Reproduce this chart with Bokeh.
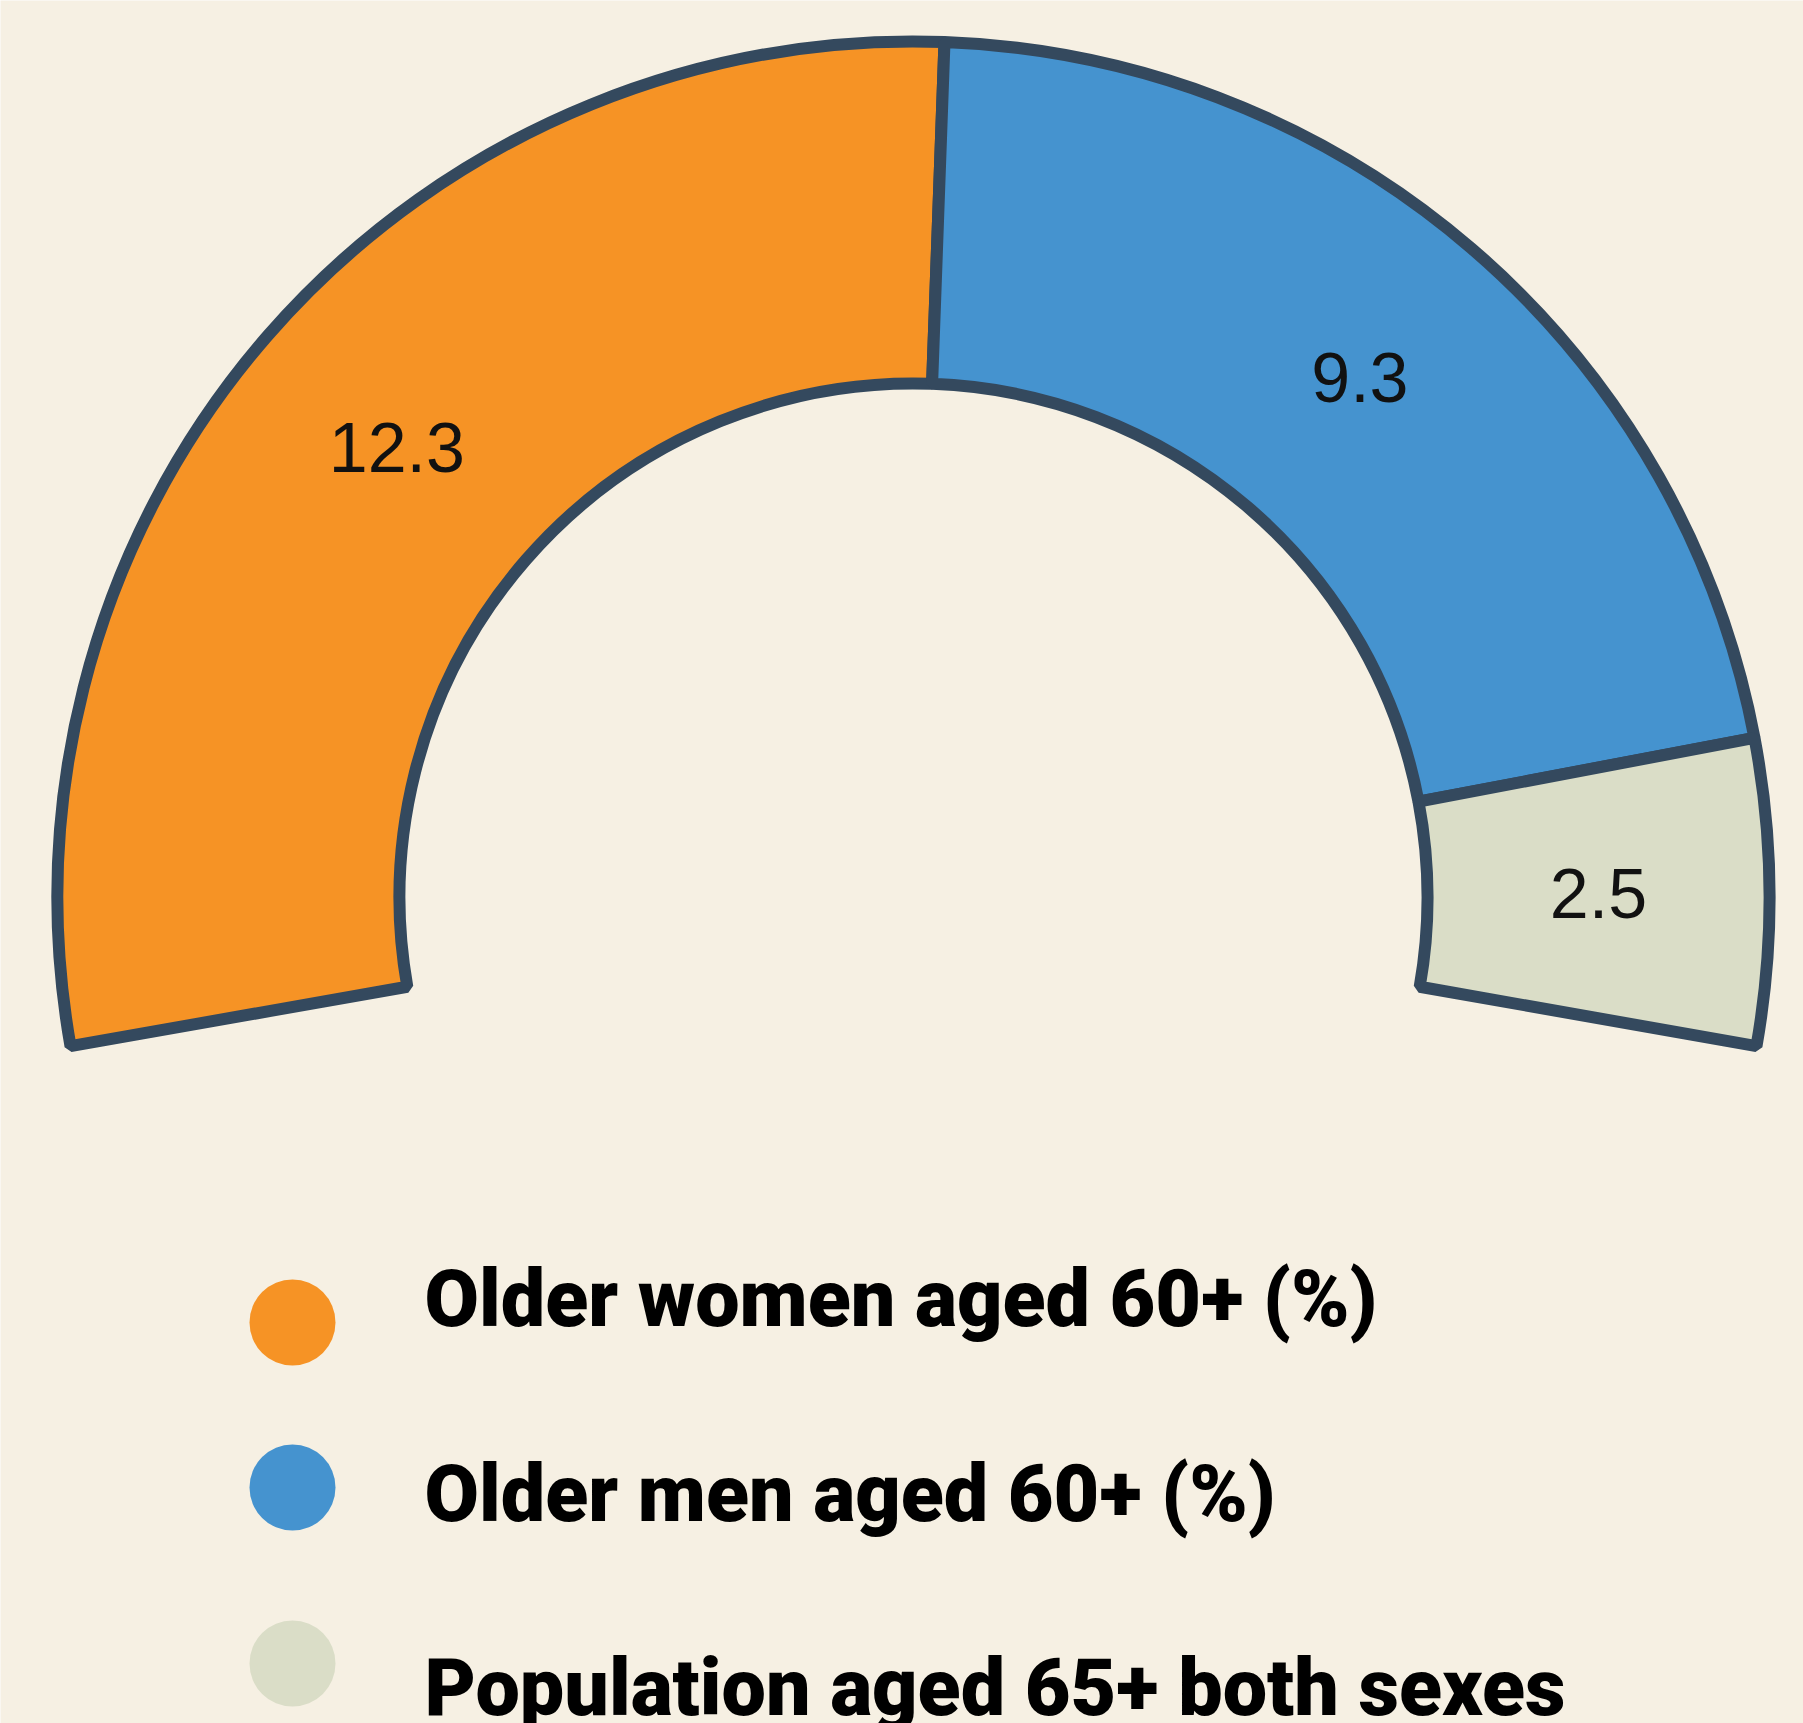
import math
from bokeh.plotting import figure
from bokeh.models import Range1d, ColumnDataSource
from bokeh.core.properties import value
from bokeh.embed import file_html
from bokeh.resources import INLINE

# ---- data ----
categories = ["Older women aged 60+ (%)", "Older men aged 60+ (%)", "Population aged 65+ both sexes"]
values = [12.3, 9.3, 2.5]
labels = ["12.3", "9.3", "2.5"]
colors = ["#F69325", "#4593CF", "#DADDC7"]

BG = "#F6F0E3"
STROKE = "#34495E"

# ---- geometry (pixels, 1 data unit = 1 px) ----
W, H = 1803, 1723
CX, CY = 913, 897          # centre of the arc on the page
R_OUT, R_IN = 856, 514
START_DEG, SPAN_DEG = 190.0, 200.0

total = sum(values)
starts, ends, lx, ly = [], [], [], []
cum = 0.0
for v in values:
    a0 = START_DEG - cum / total * SPAN_DEG
    cum += v
    a1 = START_DEG - cum / total * SPAN_DEG
    starts.append(math.radians(a1))
    ends.append(math.radians(a0))
    mid = math.radians((a0 + a1) / 2)
    rm = (R_OUT + R_IN) / 2
    lx.append(rm * math.cos(mid))
    ly.append(rm * math.sin(mid))

src = ColumnDataSource(dict(start=starts, end=ends, color=colors,
                            lx=lx, ly=ly, label=labels))

p = figure(width=W, height=H, output_backend="svg", toolbar_location=None,
           x_range=Range1d(-CX, W - CX),
           y_range=Range1d(CY - H, CY),
           min_border=0, background_fill_color=BG, border_fill_color=BG,
           outline_line_color=None)
p.axis.visible = False
p.grid.visible = False

p.annular_wedge(x=0, y=0, inner_radius=R_IN, outer_radius=R_OUT,
                start_angle="start", end_angle="end", fill_color="color",
                line_color=STROKE, line_width=12, source=src)

p.text(x="lx", y="ly", text="label", source=src,
       text_font=value("Liberation Sans"), text_font_size="70px",
       text_color="#111111", text_align="center", text_baseline="middle")

# ---- legend ----
circle_y = [CY - 1322, CY - 1487, CY - 1663]
text_y = [CY - 1298, CY - 1493, CY - 1687]
leg = ColumnDataSource(dict(cx=[292 - CX] * 3, cy=circle_y, color=colors,
                            tx=[424 - CX] * 3, ty=text_y, name=categories))
p.circle(x="cx", y="cy", radius=43, fill_color="color", line_color=None, source=leg)
p.text(x="tx", y="ty", text="name", source=leg,
       text_font=value("Roboto Black"), text_font_style="bold", text_font_size="79px",
       text_color="#000000", text_align="left", text_baseline="alphabetic")

html = file_html(p, INLINE)
html = html.replace("<body>", '<body style="background:%s">' % BG, 1)
open("out.html", "w").write(html)
